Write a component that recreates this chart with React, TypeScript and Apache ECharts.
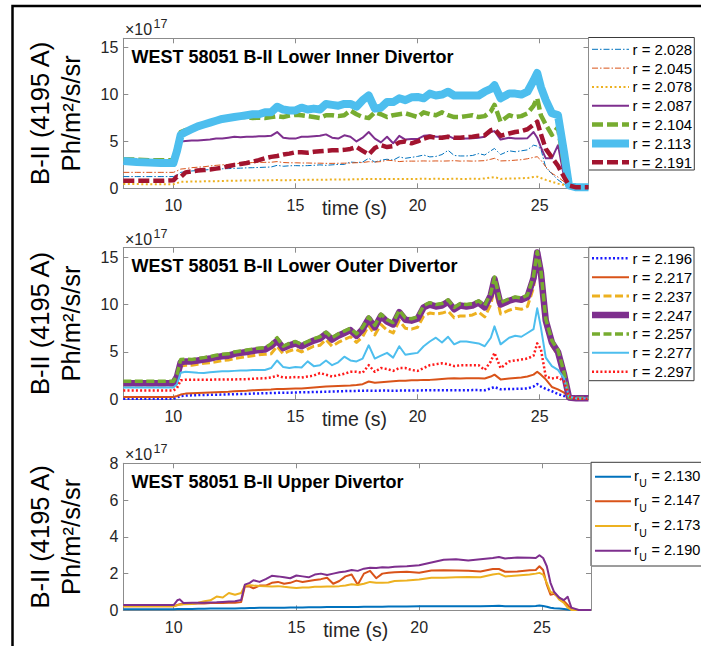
import React, { useEffect, useRef } from "react";
import * as echarts from "echarts";

// Time bases (s) for the lower and upper divertor views
const T_LOWER = [
  7.95, 8.5, 9.0, 9.5, 10.0, 10.15, 10.3,
  10.5, 10.75, 11.0, 11.25, 11.5, 11.75, 12.0, 12.25, 12.5, 12.75,
  13.0, 13.25, 13.5, 13.75, 14.0, 14.25, 14.5, 14.75, 15.0, 15.25,
  15.5, 15.75, 16.0, 16.25, 16.5, 16.75, 17.0, 17.25, 17.5, 17.75,
  18.0, 18.25, 18.5, 18.75, 19.0, 19.25, 19.5, 19.75, 20.0, 20.25,
  20.5, 20.75, 21.0, 21.25, 21.5, 21.75, 22.0, 22.25, 22.5, 22.75,
  23.0, 23.15, 23.4, 23.75, 24.0, 24.25, 24.5, 24.75, 24.9, 25.05,
  25.25, 25.5, 25.75, 26.0, 26.2, 26.5, 27.0,
];

const T_UPPER = [
  7.95, 8.5, 9.0, 9.5, 10.0, 10.15, 10.25, 10.4,
  10.75, 11.0, 11.25, 11.5, 11.75, 12.0, 12.25, 12.5, 12.75, 12.9,
  13.1, 13.25, 13.5, 13.75, 14.0, 14.25, 14.5, 14.75, 15.0, 15.25,
  15.5, 15.75, 16.0, 16.25, 16.5, 16.75, 17.0, 17.25, 17.5, 17.75,
  18.0, 18.25, 18.5, 18.75, 19.0, 19.5, 20.0, 20.5, 21.0, 21.5,
  22.0, 22.5, 23.0, 23.25, 23.5, 24.0, 24.5, 24.75, 24.9, 25.05,
  25.2, 25.35, 25.5, 25.7, 25.9, 26.05, 26.2, 26.5, 27.0,
];

// Lower inner divertor, B-II brightness in units of 1e17 Ph/m^2/s/sr
const INNER_R2028 = [
  1.25, 1.25, 1.25, 1.25, 1.25, 1.4, 1.7,
  1.77, 1.85, 1.9, 1.95, 2.0, 2.05, 2.08, 2.1, 2.13, 2.15,
  2.18, 2.2, 2.22, 2.25, 2.27, 2.45, 2.35, 2.4, 2.42, 2.4,
  2.42, 2.45, 2.5, 2.45, 2.5, 2.55, 2.55, 2.8, 2.75, 2.8,
  3.2, 2.8, 3.0, 3.1, 3.0, 3.35, 3.2, 3.3, 3.4, 3.55,
  3.35, 3.4, 3.6, 4.05, 3.5, 3.45, 3.45, 3.5, 3.7, 3.55,
  4.0, 4.25, 3.6, 4.0, 3.9, 4.0, 4.1, 4.6, 4.5, 4.2,
  2.2, 1.55, 0.9, 0.45, 0.2, 0.1, 0.1,
];
const INNER_R2045 = [
  1.7, 1.7, 1.7, 1.7, 1.7, 1.85, 2.05,
  2.1, 2.2, 2.25, 2.3, 2.38, 2.45, 2.5, 2.55, 2.6, 2.66,
  2.7, 2.75, 2.77, 2.77, 2.78, 2.85, 2.75, 2.72, 2.72, 2.7,
  2.7, 2.68, 2.68, 2.66, 2.66, 2.67, 2.68, 2.7, 2.73, 2.75,
  2.84, 2.8, 2.85, 3.0, 2.95, 2.85, 2.9, 2.9, 2.9, 2.92,
  2.9, 2.92, 2.9, 2.92, 2.95, 2.9, 2.92, 2.9, 2.92, 2.95,
  3.1, 3.2, 2.92, 2.95, 3.0, 3.05, 3.15, 3.3, 3.37, 3.0,
  2.3, 1.6, 1.2, 0.7, 0.2, 0.1, 0.1,
];
const INNER_R2078 = [
  0.45, 0.45, 0.43, 0.43, 0.43, 0.55, 0.7,
  0.7, 0.72, 0.72, 0.74, 0.75, 0.76, 0.78, 0.8, 0.8, 0.82,
  0.82, 0.84, 0.85, 0.86, 0.86, 0.88, 0.86, 0.87, 0.88, 0.9,
  0.9, 0.92, 0.92, 0.92, 0.94, 0.94, 0.95, 0.95, 0.96, 0.98,
  1.0, 0.98, 1.0, 1.0, 0.98, 1.0, 1.0, 1.0, 1.0, 1.02,
  1.0, 1.02, 1.0, 1.0, 1.02, 1.0, 1.0, 1.02, 1.0, 1.05,
  1.15, 1.2, 1.0, 1.05, 1.05, 1.08, 1.1, 1.2, 1.24, 1.1,
  0.9, 0.7, 0.5, 0.35, 0.1, 0.05, 0.05,
];
const INNER_R2087 = [
  2.7, 2.7, 2.7, 2.7, 2.7, 3.5, 5.0,
  5.05, 5.1, 5.1, 5.15, 5.2, 5.3, 5.3, 5.4, 5.5, 5.45,
  5.5, 5.5, 5.55, 5.55, 5.6, 6.0, 5.4, 5.3, 5.3, 5.5,
  5.5, 5.55, 5.6, 5.75, 5.4, 5.3, 5.65, 5.5, 5.0, 5.4,
  6.0, 5.3, 4.9, 5.5, 4.8, 5.6, 5.2, 5.25, 5.25, 5.6,
  5.65, 5.5, 5.5, 5.6, 5.3, 5.3, 5.3, 5.35, 5.4, 5.5,
  6.0, 6.1, 5.2, 5.4, 5.3, 5.3, 5.35, 6.0, 5.4, 4.4,
  3.2, 3.2, 4.6, 1.2, 0.2, 0.1, 0.1,
];
const INNER_R2104 = [
  3.1, 3.05, 3.0, 3.0, 3.0, 4.5, 6.0,
  6.2, 6.4, 6.6, 6.8, 7.0, 7.2, 7.35, 7.45, 7.55, 7.6,
  7.6, 7.5, 7.55, 7.5, 7.6, 7.7, 7.6, 7.75, 7.85, 7.8,
  7.7, 7.6, 7.5, 7.8, 7.8, 7.7, 7.8, 8.3, 7.9, 7.6,
  7.5, 8.1, 7.9, 7.6, 7.8, 7.9, 8.0, 7.8, 7.6, 8.1,
  7.9, 7.8, 8.1, 7.8, 7.6, 7.6, 7.7, 7.8, 7.6, 7.7,
  8.2, 8.9, 7.1, 7.8, 7.6, 7.7, 8.0, 8.8, 9.6, 7.8,
  6.8, 5.7, 6.5, 2.5, 0.3, 0.1, 0.1,
];
const INNER_R2113 = [
  2.9, 2.8, 2.75, 2.7, 2.7, 4.0, 5.7,
  6.0, 6.3, 6.6, 6.8, 7.0, 7.2, 7.4, 7.5, 7.6, 7.7,
  7.8, 7.9, 7.9, 8.1, 8.1, 8.7, 8.4, 8.3, 8.3, 8.6,
  8.4, 8.5, 8.4, 9.0, 8.9, 8.8, 9.0, 9.0, 8.7, 9.4,
  9.9, 8.5, 8.6, 9.2, 9.2, 9.6, 9.4, 9.7, 9.75, 9.6,
  10.1, 9.9, 10.0, 10.3, 9.9, 9.9, 9.9, 9.9, 9.9, 10.3,
  10.6, 11.0, 9.6, 10.1, 10.1, 10.0, 10.3, 11.5, 12.3, 10.8,
  9.4, 8.0, 7.8, 3.8, 0.3, 0.1, 0.1,
];
const INNER_R2191 = [
  0.8, 0.8, 0.8, 0.8, 0.85, 1.25, 1.2,
  1.7, 1.8, 1.9, 1.95, 2.0, 2.1, 2.2, 2.35, 2.5, 2.6,
  2.7, 2.85, 3.0, 3.2, 3.35, 3.45, 3.6, 3.7, 3.85, 3.85,
  3.8, 3.9, 3.95, 4.0, 4.05, 4.05, 4.1, 4.2, 4.4, 4.0,
  3.6, 4.3, 4.6, 4.4, 4.5, 4.9, 5.0, 4.8, 5.0, 5.3,
  5.5, 5.4, 5.4, 5.5, 5.4, 5.4, 5.45, 5.5, 5.6, 5.65,
  6.2, 6.3, 5.6, 5.85, 6.0, 6.1, 6.3, 6.8, 7.1, 5.8,
  4.2, 3.3, 2.4, 1.2, 0.3, 0.1, 0.1,
];

// Lower outer divertor
const OUTER_R2196 = [
  0.05, 0.05, 0.05, 0.05, 0.05, 0.2, 0.35,
  0.39, 0.42, 0.44, 0.46, 0.47, 0.48, 0.5, 0.52, 0.54, 0.56,
  0.57, 0.6, 0.62, 0.64, 0.66, 0.68, 0.7, 0.7, 0.72, 0.74,
  0.75, 0.77, 0.78, 0.8, 0.82, 0.84, 0.86, 0.88, 0.89, 0.9,
  0.92, 0.9, 0.92, 0.92, 0.9, 0.92, 0.92, 0.92, 0.93, 0.95,
  0.95, 0.95, 0.95, 0.96, 0.96, 0.95, 0.96, 0.97, 0.97, 0.95,
  1.15, 1.3, 1.05, 1.1, 1.1, 1.12, 1.15, 1.35, 1.6, 1.35,
  1.1, 0.85, 0.55, 0.35, 0.1, 0.05, 0.05,
];
const OUTER_R2217 = [
  0.25, 0.25, 0.25, 0.25, 0.25, 0.35, 0.5,
  0.6, 0.63, 0.66, 0.7, 0.72, 0.75, 0.78, 0.8, 0.84, 0.87,
  0.9, 0.95, 0.98, 1.0, 1.03, 1.1, 1.1, 1.12, 1.15, 1.15,
  1.2, 1.25, 1.3, 1.35, 1.38, 1.4, 1.42, 1.45, 1.5, 1.6,
  1.88, 1.75, 1.8, 1.85, 1.9, 1.95, 1.95, 2.0, 2.0, 2.05,
  2.05, 2.1, 2.15, 2.2, 2.22, 2.2, 2.22, 2.22, 2.23, 2.2,
  2.4, 2.6, 2.1, 2.2, 2.25, 2.3, 2.4, 2.6, 2.9, 2.6,
  2.1, 1.3, 1.05, 0.7, 0.15, 0.05, 0.05,
];
const OUTER_R2237 = [
  1.5, 1.5, 1.5, 1.5, 1.5, 2.2, 3.5,
  3.6, 3.6, 3.7, 3.8, 3.85, 3.95, 4.1, 4.15, 4.3, 4.4,
  4.5, 4.6, 4.7, 4.75, 4.8, 5.6, 4.8, 5.1, 5.3, 5.0,
  5.3, 5.6, 5.7, 6.3, 5.6, 6.0, 6.3, 6.6, 6.0, 6.6,
  7.8, 6.8, 7.9, 7.3, 7.0, 8.3, 7.5, 7.4, 7.6, 8.8,
  9.1, 9.0, 9.1, 9.3, 8.6, 8.8, 8.8, 8.9, 9.2, 8.7,
  10.0, 11.8, 9.0, 9.4, 9.6, 9.5, 9.8, 11.8, 14.8, 12.8,
  7.8, 5.6, 4.7, 2.4, 0.2, 0.1, 0.1,
];
const OUTER_R2247 = [
  1.7, 1.7, 1.7, 1.7, 1.7, 2.4, 3.9,
  4.0, 4.0, 4.1, 4.2, 4.3, 4.45, 4.55, 4.6, 4.8, 4.9,
  5.0, 5.1, 5.2, 5.25, 5.6, 6.2, 5.4, 5.7, 5.9, 5.6,
  5.9, 6.2, 6.4, 6.9, 6.3, 6.7, 7.0, 7.3, 6.7, 7.4,
  8.5, 7.6, 8.8, 8.2, 7.9, 9.2, 8.4, 8.3, 8.5, 9.7,
  10.0, 9.8, 9.9, 10.3, 9.5, 9.9, 9.8, 9.9, 10.2, 9.7,
  11.0, 12.7, 10.0, 10.4, 10.6, 10.5, 10.8, 12.8, 15.5, 13.4,
  8.3, 6.0, 5.0, 2.6, 0.2, 0.1, 0.1,
];
const OUTER_R2257 = [
  1.9, 1.9, 1.9, 1.9, 1.9, 2.6, 4.2,
  4.25, 4.2, 4.3, 4.4, 4.5, 4.65, 4.75, 4.8, 5.0, 5.1,
  5.2, 5.3, 5.4, 5.45, 5.85, 6.5, 5.6, 5.9, 6.1, 5.8,
  6.1, 6.4, 6.6, 7.1, 6.5, 6.9, 7.2, 7.5, 6.9, 7.6,
  8.7, 7.8, 9.0, 8.4, 8.1, 9.4, 8.6, 8.5, 8.7, 9.9,
  10.2, 10.0, 10.1, 10.5, 9.7, 10.1, 10.0, 10.1, 10.4, 9.9,
  11.2, 12.9, 10.2, 10.6, 10.8, 10.7, 11.0, 13.0, 15.6, 13.6,
  8.5, 6.2, 5.2, 2.8, 0.2, 0.1, 0.1,
];
const OUTER_R2277 = [
  1.25, 1.25, 1.25, 1.25, 1.25, 1.6, 2.8,
  2.9, 2.85, 2.8, 2.77, 2.85, 2.9, 2.95, 2.95, 3.0, 3.05,
  3.05, 3.1, 3.1, 3.1, 3.3, 4.1, 3.4, 3.3, 3.4, 3.35,
  4.0, 3.5, 3.6, 4.1, 3.6, 3.9, 4.5, 4.1, 4.0, 4.3,
  5.7, 4.3, 4.6, 4.9, 4.4, 5.6, 4.7, 4.8, 4.9, 5.6,
  6.1, 6.5, 6.0, 6.6, 5.8, 6.1, 6.1, 6.0, 5.9, 5.6,
  6.5, 7.7, 5.8, 6.5, 6.7, 6.6, 7.0, 7.4, 9.6, 7.6,
  4.4, 3.5, 3.1, 2.2, 0.3, 0.1, 0.1,
];
const OUTER_R2297 = [
  0.92, 0.92, 0.92, 0.92, 0.92, 1.2, 2.0,
  2.06, 2.06, 2.06, 2.06, 2.07, 2.08, 2.08, 2.1, 2.1, 2.12,
  2.13, 2.16, 2.2, 2.22, 2.3, 2.5, 2.3, 2.3, 2.35, 2.3,
  2.4, 2.5, 2.77, 2.6, 2.4, 2.55, 2.7, 2.9, 2.9, 2.8,
  3.6, 2.9, 3.3, 3.2, 3.0, 3.3, 3.3, 3.1, 3.0, 3.3,
  3.6, 3.7, 3.8, 3.7, 3.5, 3.6, 3.6, 3.6, 3.6, 3.1,
  4.0, 4.9, 3.3, 4.0, 4.1, 4.2, 4.3, 4.6, 5.9, 5.3,
  2.4, 2.2, 2.3, 1.9, 0.3, 0.05, 0.05,
];

// Upper divertor
const UPPER_R2130 = [
  0.06, 0.06, 0.06, 0.06, 0.06, 0.07, 0.07, 0.08,
  0.08, 0.09, 0.09, 0.1, 0.1, 0.1, 0.11, 0.11, 0.12, 0.12,
  0.13, 0.13, 0.14, 0.14, 0.14, 0.15, 0.15, 0.16, 0.16, 0.16,
  0.17, 0.17, 0.17, 0.18, 0.18, 0.18, 0.19, 0.19, 0.19, 0.2,
  0.2, 0.2, 0.2, 0.21, 0.21, 0.21, 0.22, 0.22, 0.22, 0.22,
  0.22, 0.22, 0.24, 0.25, 0.22, 0.22, 0.23, 0.24, 0.27, 0.24,
  0.2, 0.14, 0.12, 0.1, 0.08, 0.05, 0.02, 0.02, 0.02,
];
const UPPER_R2147 = [
  0.22, 0.22, 0.22, 0.22, 0.22, 0.3, 0.33, 0.35,
  0.36, 0.37, 0.38, 0.4, 0.4, 0.4, 0.41, 0.42, 0.45, 1.3,
  1.3, 1.2, 1.35, 1.35, 1.5, 1.55, 1.45, 1.5, 1.62, 1.55,
  1.6, 1.65, 1.7, 1.78, 1.45, 1.6, 1.85, 1.95, 1.4, 2.0,
  2.15, 1.75, 2.0, 2.05, 2.08, 2.1, 2.05, 2.17, 2.18, 2.17,
  2.15, 2.12, 2.25, 2.25, 2.1, 2.12, 2.18, 2.2, 2.4, 2.2,
  1.4, 0.85, 0.9, 0.7, 0.5, 0.3, 0.05, 0.02, 0.02,
];
const UPPER_R2173 = [
  0.22, 0.22, 0.22, 0.22, 0.22, 0.28, 0.3, 0.33,
  0.35, 0.42, 0.5, 0.55, 0.75, 0.7, 0.95, 0.85, 0.95, 1.35,
  1.37, 1.35, 1.33, 1.32, 1.3, 1.32, 1.28, 1.25, 1.22, 1.25,
  1.24, 1.28, 1.28, 1.3, 1.3, 1.32, 1.35, 1.42, 1.38, 1.45,
  1.55, 1.5, 1.5, 1.52, 1.6, 1.62, 1.68, 1.78, 1.78, 1.8,
  1.82, 1.8, 1.95, 2.0, 1.85, 1.9, 1.95, 2.0, 2.04, 1.95,
  1.5, 1.0, 0.95, 0.6, 0.4, 0.15, 0.02, 0.02, 0.02,
];
const UPPER_R2190 = [
  0.29, 0.29, 0.29, 0.29, 0.29, 0.55, 0.6, 0.4,
  0.42, 0.42, 0.42, 0.43, 0.44, 0.46, 0.48, 0.5, 0.56, 1.4,
  1.5, 1.64, 1.55, 1.7, 1.88, 1.85, 1.8, 1.75, 1.9, 1.85,
  1.8, 1.95, 2.0, 1.92, 2.0, 2.08, 2.12, 2.2, 2.15, 2.27,
  2.32, 2.3, 2.35, 2.33, 2.38, 2.4, 2.45, 2.6, 2.75, 2.78,
  2.72, 2.78, 2.85, 2.9, 2.82, 2.88, 2.87, 2.85, 3.0, 2.85,
  2.4, 1.5, 1.0, 0.7, 0.56, 0.74, 0.15, 0.02, 0.02,
];

const X_TICKS = [10, 15, 20, 25];
const Y_TICKS_LOWER = [0, 5, 10, 15];
const Y_TICKS_UPPER = [0, 2, 4, 6, 8];

const INNER_RADII = ["2.028", "2.045", "2.078", "2.087", "2.104", "2.113", "2.191"];
const OUTER_RADII = ["2.196", "2.217", "2.237", "2.247", "2.257", "2.277", "2.297"];
const UPPER_RADII = ["2.130", "2.147", "2.173", "2.190"];

const TITLES = [
  "WEST 58051 B-II Lower Inner Divertor",
  "WEST 58051 B-II Lower Outer Divertor",
  "WEST 58051 B-II Upper Divertor",
];

const FONT = "'Liberation Sans', Arial, Helvetica, sans-serif";
const AXIS_COLOR = "#8c8c8c";
const TICK_TEXT = "#262626";

type LineLook = { color: string; width: number; dash: number[] | null };

const DASH_DOT = [6, 2, 1.5, 2];
const DOT = [2, 2.5];
const DASH = [11, 4];

const INNER_LOOK: LineLook[] = [
  { color: "#0072BD", width: 1, dash: DASH_DOT },
  { color: "#D95319", width: 1, dash: DASH_DOT },
  { color: "#EDB120", width: 2, dash: DOT },
  { color: "#7E2F8E", width: 2, dash: null },
  { color: "#77AC30", width: 4.5, dash: DASH },
  { color: "#4DBEEE", width: 8, dash: null },
  { color: "#A2142F", width: 4.5, dash: DASH },
];
const OUTER_LOOK: LineLook[] = [
  { color: "#1a1aff", width: 2.5, dash: [2, 2.2] },
  { color: "#D95319", width: 2, dash: null },
  { color: "#EDB120", width: 3, dash: [8, 3.5] },
  { color: "#7E2F8E", width: 6.5, dash: null },
  { color: "#77AC30", width: 3.5, dash: [8, 3.5] },
  { color: "#4DBEEE", width: 2, dash: null },
  { color: "#ff1a1a", width: 2.5, dash: [2, 2.2] },
];
const UPPER_LOOK: LineLook[] = [
  { color: "#0072BD", width: 2, dash: null },
  { color: "#D95319", width: 2, dash: null },
  { color: "#EDB120", width: 2, dash: null },
  { color: "#7E2F8E", width: 2, dash: null },
];

// Plot boxes (px)
const PANELS = [
  { left: 123.3, top: 38.3, width: 465.2, height: 150, yMax: 16, yTicks: Y_TICKS_LOWER },
  { left: 123.3, top: 247.7, width: 465.2, height: 151.6, yMax: 16, yTicks: Y_TICKS_LOWER },
  { left: 123.3, top: 463.3, width: 467.7, height: 147.1, yMax: 8, yTicks: Y_TICKS_UPPER },
];

// Legend boxes (px)
const LEGENDS = [
  { x: 588.5, y: 37.5, w: 105.8, h: 132.5, row0: 49.3, step: 18.83, s1: 592, s2: 629, tx: 632.5 },
  { x: 588.7, y: 247.3, w: 105.3, h: 133.4, row0: 258.3, step: 18.9, s1: 592, s2: 629, tx: 632.5 },
  { x: 591, y: 462.3, w: 140, h: 103.7, row0: 476.7, step: 24.67, s1: 595, s2: 631, tx: 634 },
];

function buildOption() {
  const xAxis: any[] = [];
  const yAxis: any[] = [];
  const grid: any[] = [];
  const series: any[] = [];
  const graphic: any[] = [];

  PANELS.forEach((p, i) => {
    grid.push({ left: p.left, top: p.top, width: p.width, height: p.height, containLabel: false });
    const xBase = {
      type: "value",
      gridIndex: i,
      min: 7.95,
      max: 27,
      axisLine: { show: true, onZero: false, lineStyle: { color: AXIS_COLOR, width: 1 } },
      axisTick: { show: true, inside: true, length: 5, customValues: X_TICKS, lineStyle: { color: AXIS_COLOR, width: 1 } },
      splitLine: { show: false },
    };
    xAxis.push({
      ...xBase,
      position: "bottom",
      axisLabel: { show: true, customValues: X_TICKS, margin: 9, color: TICK_TEXT, fontSize: 16, fontFamily: FONT },
    });
    xAxis.push({ ...xBase, position: "top", axisLabel: { show: false } });
    const yBase = {
      type: "value",
      gridIndex: i,
      min: 0,
      max: p.yMax,
      axisLine: { show: true, onZero: false, lineStyle: { color: AXIS_COLOR, width: 1 } },
      axisTick: { show: true, inside: true, length: 5, customValues: p.yTicks, lineStyle: { color: AXIS_COLOR, width: 1 } },
      splitLine: { show: false },
    };
    yAxis.push({
      ...yBase,
      position: "left",
      axisLabel: { show: true, customValues: p.yTicks, margin: 5, color: TICK_TEXT, fontSize: 16, fontFamily: FONT },
    });
    yAxis.push({ ...yBase, position: "right", axisLabel: { show: false } });

    const cy = p.top + p.height / 2;
    graphic.push(
      {
        type: "text", x: 40, y: cy, rotation: Math.PI / 2, silent: true,
        style: { text: "B-II (4195 A)", font: `25.5px ${FONT}`, fill: "#000", textAlign: "center", textVerticalAlign: "middle" },
      },
      {
        type: "text", x: 71, y: cy, rotation: Math.PI / 2, silent: true,
        style: { text: "Ph/m²/s/sr", font: `25.5px ${FONT}`, fill: "#000", textAlign: "center", textVerticalAlign: "middle" },
      },
      {
        type: "text", x: 131.5, y: p.top + 18.6, silent: true,
        style: { text: TITLES[i], font: `bold 18px ${FONT}`, fill: "#000", textAlign: "left", textVerticalAlign: "middle" },
      },
      {
        type: "text", x: 125, y: p.top - 8.5, silent: true,
        style: { text: "×10", font: `16px ${FONT}`, fill: TICK_TEXT, textAlign: "left", textVerticalAlign: "middle" },
      },
      {
        type: "text", x: 153.5, y: p.top - 14, silent: true,
        style: { text: "17", font: `12.5px ${FONT}`, fill: TICK_TEXT, textAlign: "left", textVerticalAlign: "middle" },
      },
      {
        type: "text", x: p.left + p.width / 2 - 1.5, y: p.top + p.height + 19.5, silent: true,
        style: { text: "time (s)", font: `19.5px ${FONT}`, fill: TICK_TEXT, textAlign: "center", textVerticalAlign: "middle" },
      }
    );
  });

  const addSeries = (panel: number, t: number[], v: number[], look: LineLook, name: string) => {
    series.push({
      type: "line",
      name,
      xAxisIndex: panel * 2,
      yAxisIndex: panel * 2,
      data: t.map((x, k) => [x, v[k]]),
      showSymbol: false,
      symbol: "none",
      silent: true,
      emphasis: { disabled: true },
      lineStyle: {
        color: look.color,
        width: look.width,
        type: look.dash ? look.dash : "solid",
        cap: "butt",
        join: "round",
      },
    });
  };

  const inner = [INNER_R2028, INNER_R2045, INNER_R2078, INNER_R2087, INNER_R2104, INNER_R2113, INNER_R2191];
  const outer = [OUTER_R2196, OUTER_R2217, OUTER_R2237, OUTER_R2247, OUTER_R2257, OUTER_R2277, OUTER_R2297];
  const upper = [UPPER_R2130, UPPER_R2147, UPPER_R2173, UPPER_R2190];
  inner.forEach((v, k) => addSeries(0, T_LOWER, v, INNER_LOOK[k], `r = ${INNER_RADII[k]}`));
  outer.forEach((v, k) => addSeries(1, T_LOWER, v, OUTER_LOOK[k], `r = ${OUTER_RADII[k]}`));
  upper.forEach((v, k) => addSeries(2, T_UPPER, v, UPPER_LOOK[k], `rU = ${UPPER_RADII[k]}`));

  // Legend boxes
  const legendSets: { looks: LineLook[]; radii: string[]; sub: boolean }[] = [
    { looks: INNER_LOOK, radii: INNER_RADII, sub: false },
    { looks: OUTER_LOOK, radii: OUTER_RADII, sub: false },
    { looks: UPPER_LOOK, radii: UPPER_RADII, sub: true },
  ];
  legendSets.forEach((set, i) => {
    const L = LEGENDS[i];
    graphic.push({
      type: "rect", silent: true,
      shape: { x: L.x, y: L.y, width: L.w, height: L.h },
      style: { fill: "#fff", stroke: "#3a3a3a", lineWidth: 1 },
    });
    set.looks.forEach((look, k) => {
      const y = L.row0 + k * L.step;
      graphic.push({
        type: "line", silent: true,
        shape: { x1: L.s1, y1: y, x2: L.s2, y2: y },
        style: { stroke: look.color, lineWidth: look.width, lineDash: look.dash || null, lineCap: "butt" },
      });
      if (!set.sub) {
        graphic.push({
          type: "text", x: L.tx, y, silent: true,
          style: { text: `r = ${set.radii[k]}`, font: `15px ${FONT}`, fill: "#000", textAlign: "left", textVerticalAlign: "middle" },
        });
      } else {
        graphic.push(
          {
            type: "text", x: L.tx, y: y - 1, silent: true,
            style: { text: "r", font: `15px ${FONT}`, fill: "#000", textAlign: "left", textVerticalAlign: "middle" },
          },
          {
            type: "text", x: L.tx + 5.3, y: y + 6.5, silent: true,
            style: { text: "U", font: `10.5px ${FONT}`, fill: "#000", textAlign: "left", textVerticalAlign: "middle" },
          },
          {
            type: "text", x: L.tx + 17.5, y: y - 1, silent: true,
            style: { text: `= ${set.radii[k]}`, font: `14.5px ${FONT}`, fill: "#000", textAlign: "left", textVerticalAlign: "middle" },
          }
        );
      }
    });
  });

  // Figure frame
  graphic.push({
    type: "rect", silent: true,
    shape: { x: 12.5, y: 6, width: 900, height: 900 },
    style: { fill: "none", stroke: "#000", lineWidth: 2.5 },
  });

  return {
    animation: false,
    backgroundColor: "#ffffff",
    textStyle: { fontFamily: FONT },
    grid,
    xAxis,
    yAxis,
    series,
    graphic: { elements: graphic },
  };
}

export default function App() {
  const ref = useRef<HTMLDivElement>(null);
  useEffect(() => {
    if (!ref.current) return;
    const chart = echarts.init(ref.current, undefined, { renderer: "svg" });
    chart.setOption(buildOption() as any);
    return () => chart.dispose();
  }, []);
  return (
    <div
      ref={ref}
      style={{ position: "fixed", left: 0, top: 0, width: 701, height: 646, background: "#fff" }}
    />
  );
}
